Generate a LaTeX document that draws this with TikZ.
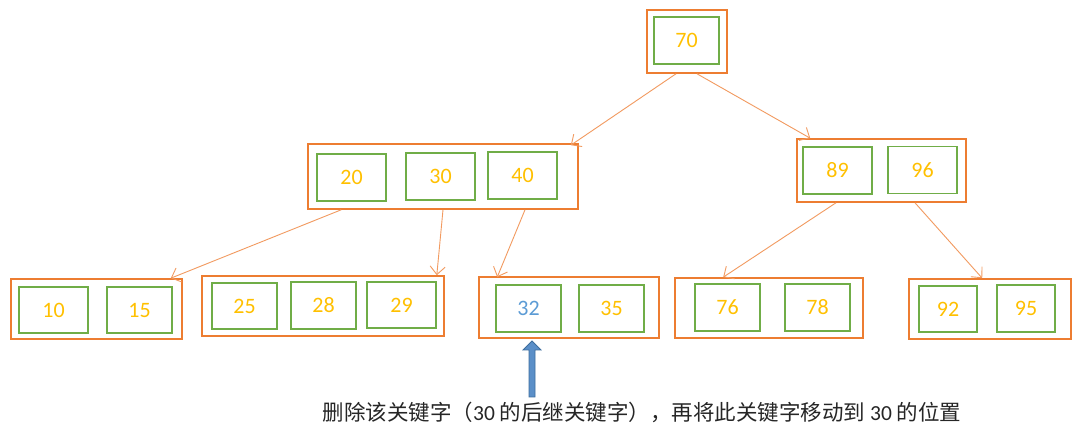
\documentclass[tikz,border=0pt]{standalone}
\usepackage{fontspec}
\setmainfont{Carlito}
\newfontfamily\cjk{Noto Sans CJK SC}
\usetikzlibrary{arrows.meta}
\definecolor{outerc}{HTML}{ED7D31}
\definecolor{innerc}{HTML}{70AD47}
\definecolor{keyc}{HTML}{FFC000}
\definecolor{bluek}{HTML}{5B9BD5}
\definecolor{linkc}{HTML}{F29A60}
\definecolor{ptrfill}{HTML}{5B8FC8}
\definecolor{ptrline}{HTML}{3E6E9E}
\definecolor{capc}{HTML}{262626}
\tikzset{
  outerbox/.style={draw=outerc, line width=1.6pt, minimum width=#1, inner sep=0pt},
  keybox/.style={draw=innerc, line width=1.5pt, text=keyc, font=\fontsize{22}{26}\selectfont, minimum height=47pt, minimum width=#1, inner sep=0pt},
  link/.style={draw=linkc, line width=0.9pt, -{Straight Barb[length=8pt,width=15pt,line width=0.9pt]}},
}
\begin{document}
\begin{tikzpicture}[x=1pt,y=-1pt]
\useasboundingbox[fill=white] (0,0) rectangle (1080,435);
% outer node boxes
\node[outerbox=80pt, minimum height=63pt] (root) at (687,41.5) {};
\node[outerbox=270pt, minimum height=65pt] (ml) at (443,176.5) {};
\node[outerbox=169pt, minimum height=63pt] (mr) at (881.5,170.5) {};
\node[outerbox=171pt, minimum height=60pt] (la) at (96.5,309) {};
\node[outerbox=242pt, minimum height=60pt] (lb) at (323,306) {};
\node[outerbox=180pt, minimum height=61pt] (lc) at (569,307.5) {};
\node[outerbox=188pt, minimum height=60pt] (ld) at (769,308) {};
\node[outerbox=162pt, minimum height=60pt] (le) at (990,309) {};
% keys
\node[keybox=65pt] (k70) at (686.5,40.5) {70};
\node[keybox=69pt] (k20) at (351.5,177.5) {20};
\node[keybox=69pt] (k30) at (440.5,176.5) {30};
\node[keybox=69pt] (k40) at (522.5,175.5) {40};
\node[keybox=69pt] (k89) at (837.5,170.5) {89};
\node[keybox=69pt] (k96) at (922.5,170) {96};
\node[keybox=69pt, minimum height=46pt] (k10) at (53.5,310) {10};
\node[keybox=65pt, minimum height=46pt] (k15) at (139.5,310) {15};
\node[keybox=65pt, minimum height=46pt] (k25) at (244.5,306) {25};
\node[keybox=65pt] (k28) at (323.5,305.5) {28};
\node[keybox=69pt, minimum height=46pt] (k29) at (401.5,305) {29};
\node[keybox=65pt, text=bluek] (k32) at (528.5,308.5) {32};
\node[keybox=65pt] (k35) at (611.5,308.5) {35};
\node[keybox=65pt] (k76) at (727.5,307.5) {76};
\node[keybox=65pt] (k78) at (817.5,307.5) {78};
\node[keybox=58pt, minimum height=46pt] (k92) at (948,309) {92};
\node[keybox=58pt] (k95) at (1026,308.5) {95};
% connectors
\draw[link] ([xshift=-11pt]root.south) -- ([xshift=-8pt,yshift=-2pt]ml.north east);
\draw[link] ([xshift=10pt]root.south) -- ([xshift=14pt]mr.north west);
\draw[link] ([xshift=34pt]ml.south west) -- ([xshift=-12pt]la.north east);
\draw[link] (ml.south) -- ([xshift=-8pt]lb.north east);
\draw[link] ([xshift=82pt]ml.south) -- ([xshift=19pt,yshift=-1pt]lc.north west);
\draw[link] ([xshift=-45.5pt]mr.south) -- ([xshift=49pt]ld.north west);
\draw[link] ([xshift=33.5pt]mr.south) -- ([xshift=74pt]le.north west);
% pointer arrow
\coordinate (tip) at (532,341);
\filldraw[fill=ptrfill, draw=ptrline, line width=0.8pt]
  (tip) -- ++(9,9) -- ++(-6,0) -- ++(0,47) -- ++(-6,0) -- ++(0,-47) -- ++(-6,0) -- cycle;
% caption
\node[text=capc, font=\fontsize{21.5}{25}\selectfont, inner sep=0pt] (cap) at (642,412)
  {{\cjk 删除该关键字（}30 {\cjk 的后继关键字），再将此关键字移动到} 30 {\cjk 的位置}};
\end{tikzpicture}
\end{document}
